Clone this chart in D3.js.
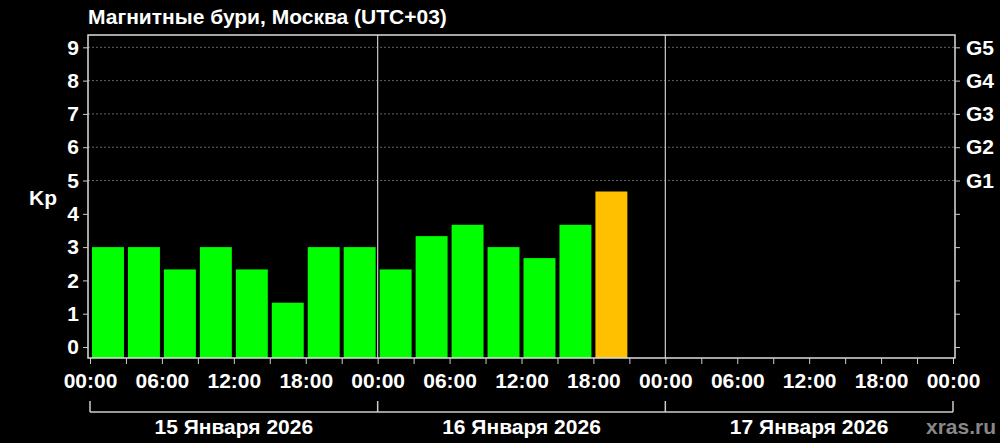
<!DOCTYPE html>
<html>
<head>
<meta charset="utf-8">
<script src="https://cdn.jsdelivr.net/npm/d3@7"></script>
<style>
  body { margin: 0; background: #000; }
  text { font-family: "Liberation Sans", Arial, sans-serif; font-weight: bold; fill: #fff; }
</style>
</head>
<body>
<div id="chart-div"></div>
<script>
// Kp by 3-hour interval, starting 15 Jan 00:00
var kpValues = [3, 3, 2.33, 3, 2.33, 1.33, 3, 3,
                2.33, 3.33, 3.67, 3, 2.67, 3.67, 4.67];
var dayLabels = ["15 Января 2026", "16 Января 2026", "17 Января 2026"];
var hourLabels = ["00:00", "06:00", "12:00", "18:00"];
var kpTicks = [0, 1, 2, 3, 4, 5, 6, 7, 8, 9];
var gLabels = ["G1", "G2", "G3", "G4", "G5"];

var width = 1000, height = 443;
var svg = d3.select('#chart-div').append('svg')
    .attr('width', width).attr('height', height)
    .style('display', 'block');

svg.append('rect').attr('width', width).attr('height', height).attr('fill', '#000');

var plot = {left: 88, right: 955, top: 35, bottom: 358};
var fs = '21px';

var x = d3.scaleLinear().domain([0, 72]).range([90, 953]);
var y = d3.scaleLinear().domain([-0.33, 9.37]).range([plot.bottom, plot.top]);

// title
svg.append('text').attr('x', 88).attr('y', 24)
    .style('font-size', fs).text('Магнитные бури, Москва (UTC+03)');

// dashed grid for storm levels
svg.selectAll('.grid').data(kpTicks.filter(function(d) { return d >= 5; }))
  .enter().append('line')
    .attr('x1', plot.left).attr('x2', plot.right)
    .attr('y1', function(d) { return y(d); }).attr('y2', function(d) { return y(d); })
    .attr('stroke', '#666').attr('stroke-width', 1).attr('stroke-dasharray', '2,2');

// bars
svg.selectAll('.bar').data(kpValues).enter().append('rect')
    .attr('x', function(d, i) { return x(i * 3) + 2; })
    .attr('width', function(d, i) { return x(i * 3 + 3) - x(i * 3) - 4; })
    .attr('y', function(d) { return y(d); })
    .attr('height', function(d) { return plot.bottom - y(d); })
    .attr('fill', function(d) { return d >= 4.5 ? '#ffc000' : '#00ff00'; });

// day separators
svg.selectAll('.sep').data([24, 48]).enter().append('line')
    .attr('x1', function(d) { return x(d); }).attr('x2', function(d) { return x(d); })
    .attr('y1', plot.top).attr('y2', plot.bottom)
    .attr('stroke', '#ccc').attr('stroke-width', 1.2);

// frame
svg.append('rect').attr('x', plot.left).attr('y', plot.top)
    .attr('width', plot.right - plot.left).attr('height', plot.bottom - plot.top)
    .attr('fill', 'none').attr('stroke', '#ddd').attr('stroke-width', 1.5);

// left axis
var yAxisL = d3.axisLeft(y).tickValues(kpTicks).tickSize(5).tickPadding(4).tickFormat(d3.format('d'));
var gl = svg.append('g').attr('transform', 'translate(' + plot.left + ',0)').call(yAxisL);
gl.select('.domain').remove();
gl.selectAll('line').attr('stroke', '#ccc');
gl.selectAll('text').style('font-size', fs).attr('fill', '#fff');

// right axis with G levels
var yAxisR = d3.axisRight(y).tickValues(kpTicks).tickSize(5).tickPadding(6)
    .tickFormat(function(d) { return d >= 5 ? gLabels[d - 5] : ''; });
var gr = svg.append('g').attr('transform', 'translate(' + plot.right + ',0)').call(yAxisR);
gr.select('.domain').remove();
gr.selectAll('line').attr('stroke', '#ccc');
gr.selectAll('text').style('font-size', fs).attr('fill', '#fff');

svg.append('text').attr('x', 43).attr('y', 205).attr('text-anchor', 'middle')
    .style('font-size', fs).text('Kp');

// bottom axis: minor ticks every 3h, labels every 6h
var minor = d3.range(0, 73, 3);
var xAxis = d3.axisBottom(x).tickValues(minor).tickSize(6).tickPadding(9)
    .tickFormat(function(d) { return d % 6 === 0 ? hourLabels[(d % 24) / 6] : ''; });
var gx = svg.append('g').attr('transform', 'translate(0,' + plot.bottom + ')').call(xAxis);
gx.select('.domain').remove();
gx.selectAll('line').attr('stroke', '#ccc');
gx.selectAll('text').style('font-size', fs).attr('fill', '#fff');

// day brackets
var bracketY = 412;
svg.append('line').attr('x1', x(0)).attr('x2', x(72))
    .attr('y1', bracketY).attr('y2', bracketY).attr('stroke', '#ccc').attr('stroke-width', 1.5);
svg.selectAll('.btick').data([0, 24, 48, 72]).enter().append('line')
    .attr('x1', function(d) { return x(d); }).attr('x2', function(d) { return x(d); })
    .attr('y1', bracketY - 11).attr('y2', bracketY).attr('stroke', '#ccc').attr('stroke-width', 1.5);

svg.selectAll('.day').data(dayLabels).enter().append('text')
    .attr('x', function(d, i) { return x(i * 24 + 12); })
    .attr('y', 434).attr('text-anchor', 'middle')
    .style('font-size', fs).text(function(d) { return d; });

svg.append('text').attr('x', 996).attr('y', 434).attr('text-anchor', 'end')
    .style('font-size', fs).style('fill', '#888').text('xras.ru');
</script>
</body>
</html>
